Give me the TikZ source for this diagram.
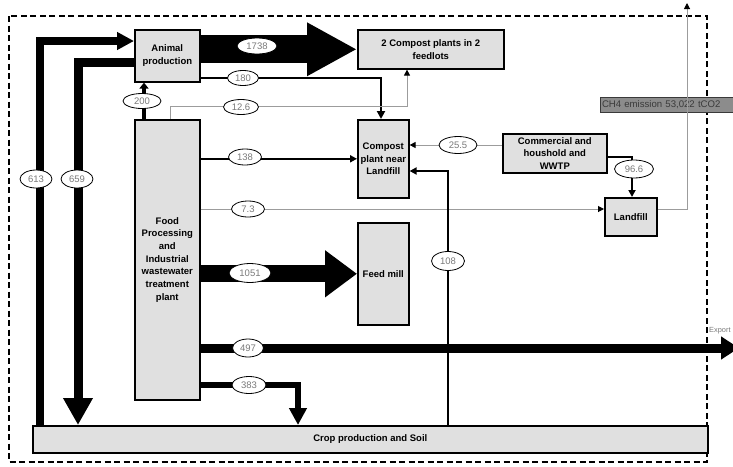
\documentclass[tikz,border=0pt]{standalone}
\usepackage{fontspec}
\setmainfont{Liberation Sans}
\usetikzlibrary{arrows.meta,shapes.geometric}
\definecolor{boxgray}{HTML}{E0E0E0}
\definecolor{linegray}{HTML}{9C9C9C}
\definecolor{labelgray}{HTML}{7A7A7A}
\definecolor{chfill}{HTML}{8C8C8C}
\definecolor{chtext}{HTML}{3A3A3A}
\begin{document}
\begin{tikzpicture}[x=1pt,y=-1pt,
  box/.style={draw=black, line width=1.6pt, fill=boxgray, inner sep=0pt, align=center,
    font=\fontsize{9.5}{12.7}\selectfont\bfseries, anchor=north west},
  flowlabel/.style={ellipse, draw=black, line width=0.8pt, fill=white, inner sep=0pt,
    minimum width=34pt, minimum height=17pt, font=\fontsize{9.5}{11}\selectfont, text=labelgray},
  thinflow/.style={draw=linegray, line width=1pt, -{Triangle[length=6pt,width=6pt,color=black]}},
  tip/.style={-{Triangle[length=#1,width=#1]}}
]
\useasboundingbox (0,0) rectangle (733,466);

% system boundary
\draw[line width=1.4pt, dash pattern=on 6pt off 3.5pt] (9,16) rectangle (707,462);

% processes
\node[box, minimum width=65pt, minimum height=52pt] (anim) at (134,29) {Animal\\production};
\node[box, minimum width=146pt, minimum height=39pt] (comp2) at (357,29) {2 Compost plants in 2\\feedlots};
\node[box, minimum width=65pt, minimum height=280pt] (food) at (134,119) {Food\\Processing\\and\\Industrial\\wastewater\\treatment\\plant};
\node[box, minimum width=51pt, minimum height=78pt] (cpl) at (357,119) {Compost\\plant near\\Landfill};
\node[box, minimum width=104pt, minimum height=39pt] (comm) at (502,133) {Commercial and\\houshold and\\WWTP};
\node[box, minimum width=52pt, minimum height=38pt] (landfill) at (604,197) {Landfill};
\node[box, minimum width=51pt, minimum height=102pt] (feed) at (357,222) {Feed mill};
\node[box, minimum width=675pt, minimum height=27pt] (crop) at (32,425) {Crop production and Soil};

% bend points of the flows
\coordinate (c613) at (40,41);
\coordinate (c659) at (78,62);
\coordinate (c200) at (144,100);
\coordinate (c180) at (381,78);
\coordinate (a126) at (170,106);
\coordinate (b126) at (407,106);
\coordinate (c73) at (0,209);
\coordinate (c255) at (0,145);
\coordinate (c966) at (632,157);
\coordinate (c4) at (687,209);
\coordinate (ch4top) at (687,3);
\coordinate (exp) at (739,348);
\coordinate (c383) at (298,385);
\coordinate (c108) at (448,171);

% mass flows
\draw[line width=8pt, -{Triangle[length=17pt,width=17pt]}] (c613 |- crop.north) -- (c613) -- (c613 -| anim.west);
\draw[line width=9pt, -{Triangle[length=27pt,width=28pt]}] (c659 -| anim.west) -- (c659) -- (c659 |- crop.north);
\draw[line width=4.5pt, -{Triangle[length=6pt,width=9pt]}] (c200 |- food.north) -- (c200 |- anim.south);
\draw[line width=28pt, -{Triangle[length=50pt,width=50pt]}] (anim.east |- comp2.west) -- (comp2.west);
\draw[line width=2.5pt, tip=8pt] (c180 -| anim.east) -- (c180) -- (c180 |- cpl.north);
\draw[thinflow] (a126 |- food.north) -- (a126) -- (b126) -- (b126 |- comp2.south);
\draw[line width=2.5pt, tip=7pt] (food.east |- cpl.west) -- (cpl.west);
\draw[thinflow] (food.east |- c73) -- (landfill.west |- c73);
\draw[thinflow] (comm.west |- c255) -- (cpl.east |- c255);
\draw[line width=2pt, tip=7pt] (c966 -| comm.east) -- (c966) -- (c966 |- landfill.north);
\draw[line width=17pt, -{Triangle[length=32pt,width=45pt]}] (food.east |- feed.west) -- (feed.west);
\draw[line width=9pt, -{Triangle[length=18pt,width=22pt]}] (food.east |- exp) -- (exp);
\draw[line width=6pt, -{Triangle[length=17pt,width=17pt]}] (c383 -| food.east) -- (c383) -- (c383 |- crop.north);
\draw[line width=2pt, tip=7pt] (c108 |- crop.north) -- (c108) -- (c108 -| cpl.east);

% emission
\node[draw=chtext, line width=0.6pt, fill=chfill, anchor=west, minimum width=140pt, minimum height=15pt,
  inner sep=1pt, text=chtext, font=\fontsize{9.6}{11}\selectfont, align=left, text width=136pt] (ch4) at (600,104.5)
  {\kern-0.3pt CH4 emission 53,022 tCO2};
\draw[thinflow] (c4 -| landfill.east) -- (c4) -- (ch4top);
\node[anchor=west, inner sep=0pt, text=labelgray, font=\fontsize{7.4}{9}\selectfont] (export) at (709,331) {Export};

% flow values
\node[flowlabel, minimum width=40pt, minimum height=16pt] (v1738) at (257,46) {1738};
\node[flowlabel, minimum width=31pt, minimum height=15pt] (v180) at (243,78) {180};
\node[flowlabel, minimum width=38pt, minimum height=15pt] (v200) at (142,101) {200};
\node[flowlabel, minimum width=35pt, minimum height=15pt] (v126) at (241,107) {12.6};
\node[flowlabel, minimum width=33pt, minimum height=16pt] (v138) at (245,157) {138};
\node[flowlabel, minimum width=33pt, minimum height=16pt] (v73) at (248,209) {7.3};
\node[flowlabel, minimum width=32pt, minimum height=18pt] (v613) at (36,179) {613};
\node[flowlabel, minimum width=32pt, minimum height=18pt] (v659) at (77,179) {659};
\node[flowlabel, minimum width=42pt, minimum height=19pt] (v1051) at (250,273) {1051};
\node[flowlabel, minimum width=31pt, minimum height=18pt] (v497) at (248,348) {497};
\node[flowlabel, minimum width=34pt, minimum height=17pt] (v383) at (249,385) {383};
\node[flowlabel, minimum width=33pt, minimum height=19pt] (v108) at (448,261) {108};
\node[flowlabel, minimum width=38pt, minimum height=17pt] (v255) at (458,145) {25.5};
\node[flowlabel, minimum width=39pt, minimum height=18pt] (v966) at (634,169) {96.6};
\end{tikzpicture}
\end{document}
